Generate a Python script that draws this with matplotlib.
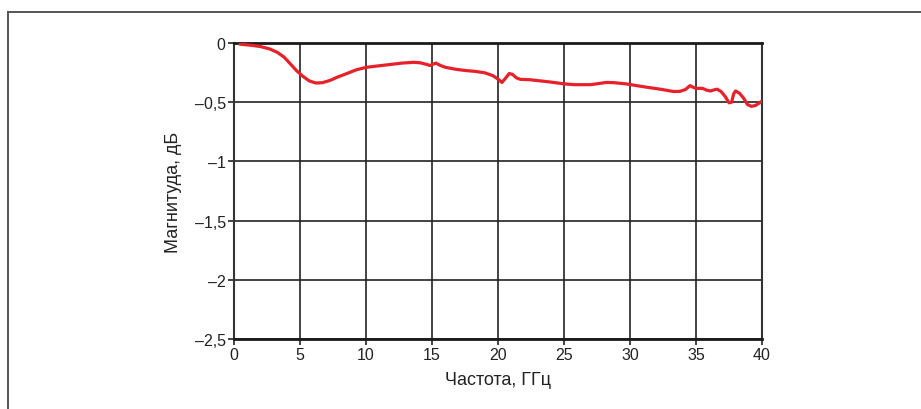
import matplotlib
matplotlib.use('Agg')
import matplotlib.pyplot as plt
from matplotlib.lines import Line2D

# frequency response, GHz vs dB
freq = [0.45, 1.2, 2.0, 2.7, 3.3, 3.8, 4.3, 4.75, 5.2, 5.7, 6.2, 6.7, 7.3, 7.8, 8.5, 9.3,
        10.05, 10.8, 11.8, 12.7, 13.6, 14.1, 14.5, 14.85, 15.1, 15.3, 15.6, 16.0, 16.8,
        17.5, 18.3, 19.0, 19.6, 20.0, 20.3, 20.55, 20.85, 21.1, 21.4, 21.7, 22.4, 23.2,
        24.0, 25.0, 25.8, 27.0, 27.6, 28.2, 28.8, 29.75, 30.5, 31.3, 32.4, 33.3, 33.8,
        34.2, 34.55, 34.8, 35.0, 35.5, 35.8, 36.1, 36.4, 36.6, 36.9, 37.2, 37.5, 37.7,
        37.85, 38.0, 38.3, 38.6, 38.9, 39.2, 39.5, 39.75, 40.0]
mag = [-0.01, -0.018, -0.03, -0.05, -0.08, -0.12, -0.18, -0.235, -0.28, -0.32, -0.338,
       -0.335, -0.315, -0.29, -0.26, -0.225, -0.205, -0.195, -0.182, -0.17, -0.163, -0.167,
       -0.178, -0.19, -0.178, -0.17, -0.188, -0.205, -0.222, -0.232, -0.24, -0.252, -0.275,
       -0.305, -0.333, -0.3, -0.258, -0.265, -0.295, -0.307, -0.31, -0.32, -0.33, -0.345,
       -0.352, -0.352, -0.343, -0.333, -0.335, -0.346, -0.36, -0.374, -0.392, -0.41, -0.408,
       -0.393, -0.36, -0.375, -0.383, -0.383, -0.398, -0.405, -0.395, -0.39, -0.41, -0.45,
       -0.505, -0.5, -0.43, -0.405, -0.425, -0.465, -0.52, -0.535, -0.528, -0.51, -0.49]

xticks = [0, 5, 10, 15, 20, 25, 30, 35, 40]
yticks = [0, -0.5, -1, -1.5, -2, -2.5]
ytick_labels = ['0', '\u20130,5', '\u20131', '\u20131,5', '\u20132', '\u20132,5']

plt.rcParams['font.family'] = ['Liberation Sans Narrow', 'Liberation Sans', 'DejaVu Sans']

fig = plt.figure(figsize=(9.21, 4.10), dpi=100)
ax = fig.add_axes([234/921, 1-340/410, (762-234)/921, (340-44)/410])

ax.plot(freq, mag, color='#e8202a', linewidth=2.3, solid_joinstyle='round',
        solid_capstyle='round', zorder=3)

ax.set_xlim(0, 40)
ax.set_ylim(-2.5, 0)
ax.set_xticks(xticks)
ax.set_xticklabels([str(t) for t in xticks])
ax.set_yticks(yticks)
ax.set_yticklabels(ytick_labels)
ax.grid(True, color='#222222', linewidth=1.2)
ax.set_axisbelow(True)
ax.tick_params(direction='out', length=4, width=1.2, color='#222222',
               labelsize=11.5, labelcolor='#222222', pad=2)

for side in ['top', 'bottom']:
    ax.spines[side].set_linewidth(2.0)
    ax.spines[side].set_color('#1a1a1a')
for side in ['left', 'right']:
    ax.spines[side].set_linewidth(1.5)
    ax.spines[side].set_color('#333333')

ax.set_xlabel('Частота, ГГц', fontsize=13, color='#222222', labelpad=6)
ax.set_ylabel('Магнитуда, дБ', fontsize=13, color='#222222', labelpad=9)

# outer frame (top and left edges)
fig.add_artist(Line2D([7.5/921, 1], [1-13/410, 1-13/410], transform=fig.transFigure,
                      color='#555555', linewidth=1.4))
fig.add_artist(Line2D([7.5/921, 7.5/921], [0, 1-13/410], transform=fig.transFigure,
                      color='#555555', linewidth=1.4))

fig.savefig('out.png', dpi=100)
